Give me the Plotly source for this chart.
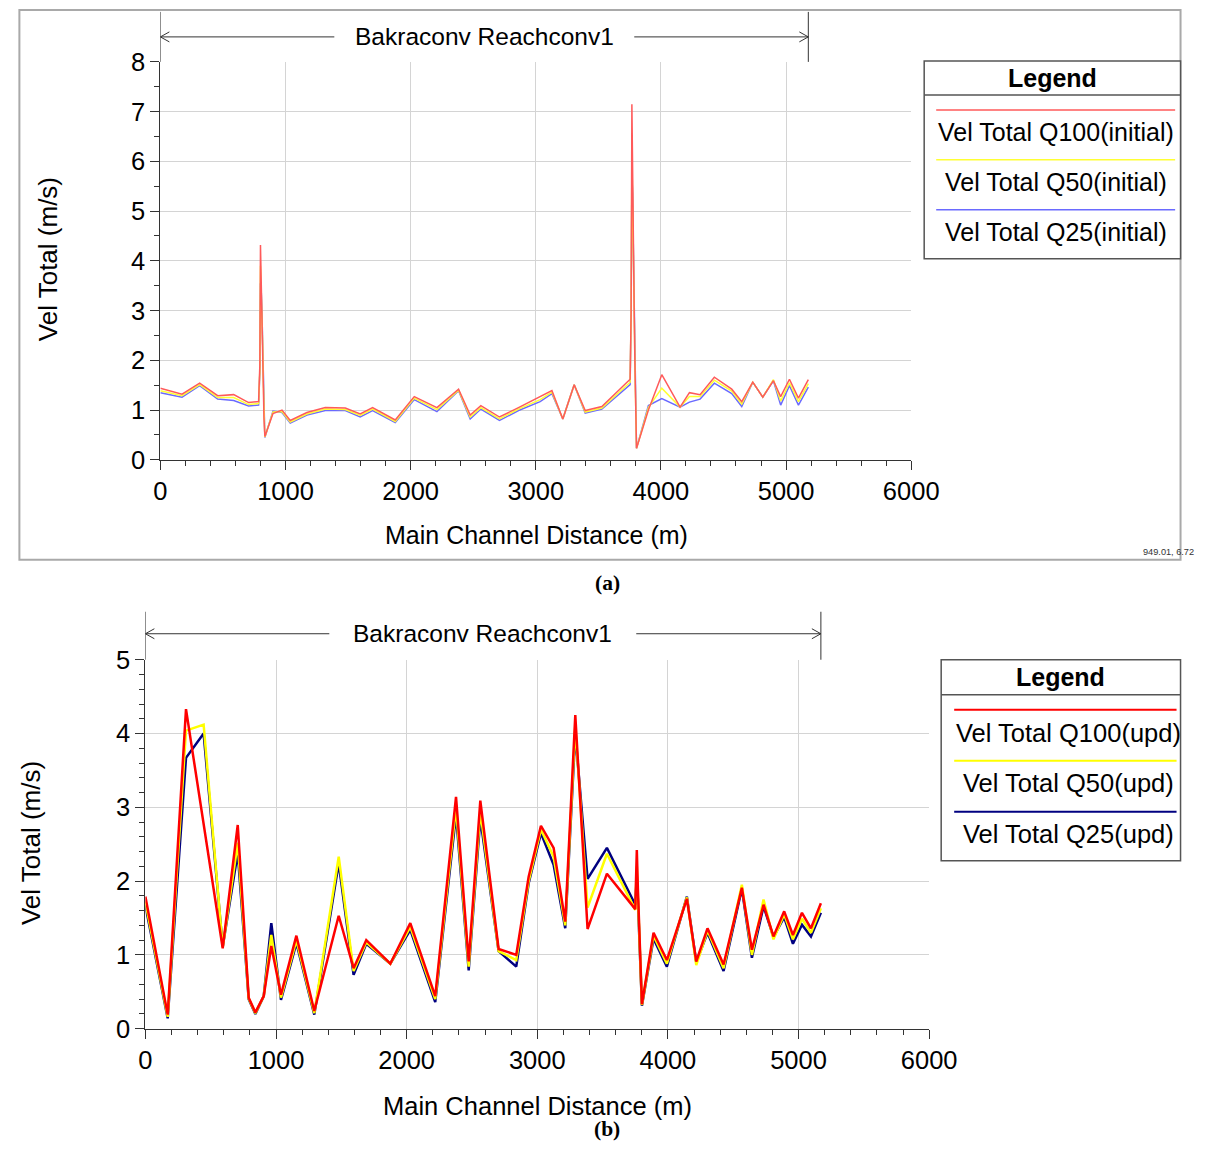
import plotly.graph_objects as go

W, H = 1210, 1155
# the photographed page shows the figure slightly scaled/offset; map target pixels to paper
SX, AX = 0.9713, 6.6
SY, AY = 0.9760, 14.1


def px(x):
    return (x - AX) / SX / W


def py(y):
    return 1 - (y - AY) / SY / H


# ---------------- Data: panel (a) initial geometry ----------------
dist_a = [0, 173, 314, 458, 586, 705, 785, 795, 800, 806, 812, 818, 823, 828, 835,
          900, 972, 1038, 1171, 1318, 1478, 1597, 1696, 1877, 2029, 2210, 2383, 2476,
          2561, 2710, 2862, 3035, 3129, 3216, 3307, 3395, 3528, 3754, 3762, 3768, 3774,
          3780, 3786, 3792, 3797, 3805, 3900, 4007, 4153, 4228, 4313, 4427, 4566, 4646,
          4734, 4814, 4899, 4957, 5027, 5099, 5178]
q100_a = [1.44, 1.32, 1.54, 1.29, 1.31, 1.15, 1.17, 1.90, 4.32, 3.45, 3.05, 2.31, 1.60, 0.84, 0.47,
          0.93, 1.00, 0.79, 0.95, 1.05, 1.04, 0.92, 1.05, 0.80, 1.27, 1.05, 1.42, 0.90,
          1.09, 0.86, 1.05, 1.26, 1.39, 0.82, 1.51, 0.99, 1.07, 1.62, 2.98, 7.15, 5.37,
          4.24, 3.10, 1.95, 0.80, 0.23, 1.00, 1.71, 1.06, 1.35, 1.31, 1.66, 1.42, 1.17,
          1.56, 1.26, 1.59, 1.27, 1.62, 1.24, 1.61]
q50_a = [1.39, 1.29, 1.51, 1.25, 1.25, 1.11, 1.13, 1.80, 3.90, 3.40, 3.00, 2.27, 1.55, 0.82, 0.46,
         0.96, 0.97, 0.76, 0.92, 1.02, 1.01, 0.89, 1.02, 0.77, 1.24, 1.01, 1.40, 0.86,
         1.05, 0.82, 1.02, 1.21, 1.36, 0.82, 1.51, 0.96, 1.04, 1.56, 2.95, 6.20, 5.35,
         4.22, 3.08, 1.93, 0.78, 0.23, 1.05, 1.44, 1.06, 1.27, 1.27, 1.60, 1.38, 1.12,
         1.56, 1.26, 1.61, 1.18, 1.55, 1.17, 1.53]
q25_a = [1.35, 1.26, 1.49, 1.22, 1.19, 1.08, 1.10, 1.75, 3.55, 3.40, 2.95, 2.25, 1.52, 0.80, 0.45,
         0.98, 0.95, 0.74, 0.90, 0.99, 0.99, 0.86, 0.99, 0.75, 1.21, 0.97, 1.39, 0.82,
         1.02, 0.79, 0.99, 1.17, 1.33, 0.82, 1.51, 0.94, 1.02, 1.51, 2.90, 5.75, 5.33,
         4.20, 3.06, 1.90, 0.76, 0.23, 1.09, 1.23, 1.06, 1.16, 1.22, 1.54, 1.33, 1.07,
         1.56, 1.26, 1.59, 1.10, 1.49, 1.10, 1.46]

# ---------------- Data: panel (b) updated geometry ----------------
dist_b = [0, 171, 311, 446, 592, 707, 791, 842, 906, 964, 1038, 1156, 1293, 1480, 1594,
          1691, 1875, 2028, 2219, 2378, 2475, 2564, 2704, 2839, 2934, 3028, 3125, 3214,
          3291, 3385, 3533, 3750, 3762, 3770, 3801, 3890, 3992, 4145, 4217, 4303, 4426,
          4566, 4643, 4732, 4808, 4890, 4957, 5026, 5095, 5171]
q100_b = [1.79, 0.19, 4.33, 2.80, 1.09, 2.76, 0.42, 0.22, 0.44, 1.12, 0.46, 1.26, 0.24, 1.53, 0.82,
          1.20, 0.88, 1.43, 0.44, 3.14, 0.91, 3.09, 1.08, 1.00, 2.06, 2.75, 2.45, 1.45,
          4.25, 1.35, 2.10, 1.62, 2.42, 1.90, 0.33, 1.30, 0.93, 1.76, 0.91, 1.36, 0.87,
          1.91, 1.07, 1.68, 1.25, 1.59, 1.27, 1.57, 1.36, 1.70]
q50_b = [1.72, 0.16, 4.04, 4.12, 1.10, 2.52, 0.41, 0.21, 0.44, 1.27, 0.42, 1.20, 0.21, 2.33, 0.78,
         1.17, 0.88, 1.38, 0.40, 3.00, 0.84, 2.95, 1.05, 0.93, 2.00, 2.70, 2.33, 1.40,
         4.10, 1.64, 2.37, 1.61, 2.20, 1.80, 0.32, 1.26, 0.88, 1.78, 0.86, 1.33, 0.82,
         1.95, 1.00, 1.75, 1.21, 1.55, 1.21, 1.49, 1.30, 1.63]
q25_b = [1.67, 0.14, 3.67, 4.00, 1.11, 2.38, 0.40, 0.20, 0.44, 1.43, 0.39, 1.16, 0.19, 2.24, 0.73,
         1.15, 0.88, 1.34, 0.36, 2.90, 0.79, 2.85, 1.05, 0.84, 1.97, 2.65, 2.22, 1.36,
         4.00, 2.03, 2.45, 1.68, 2.06, 1.75, 0.31, 1.22, 0.84, 1.79, 0.90, 1.30, 0.78,
         1.90, 0.96, 1.66, 1.24, 1.51, 1.15, 1.41, 1.25, 1.57]

names_a = ["Vel Total Q100(initial)", "Vel Total Q50(initial)", "Vel Total Q25(initial)"]
names_b = ["Vel Total Q100(upd)", "Vel Total Q50(upd)", "Vel Total Q25(upd)"]
colors_a = ["#ff5a5a", "#ffff33", "#6a6aff"]
colors_b = ["#ff0000", "#ffff00", "#000080"]

FONT = "Liberation Sans, Arial, sans-serif"
SERIF = "Liberation Serif, Times New Roman, serif"
EDGE = 1208.5 * SX + AX  # right-most target pixel still inside the page

fig = go.Figure()

for vals, name, col in [(q25_a, names_a[2], colors_a[2]),
                        (q50_a, names_a[1], colors_a[1]),
                        (q100_a, names_a[0], colors_a[0])]:
    fig.add_trace(go.Scatter(x=dist_a, y=vals, mode="lines", name=name,
                             line=dict(color=col, width=1.5),
                             xaxis="x", yaxis="y", showlegend=False))

for vals, name, col in [(q25_b, names_b[2], colors_b[2]),
                        (q50_b, names_b[1], colors_b[1]),
                        (q100_b, names_b[0], colors_b[0])]:
    fig.add_trace(go.Scatter(x=dist_b, y=vals, mode="lines", name=name,
                             line=dict(color=col, width=2.5),
                             xaxis="x2", yaxis="y2", showlegend=False))


def axis_common():
    return dict(
        showline=True, linecolor="#333333", linewidth=1,
        ticks="outside", ticklen=9, tickwidth=1, tickcolor="#333333",
        showgrid=True, gridcolor="#d4d4d4", gridwidth=1,
        zeroline=False, mirror=False,
        tickfont=dict(family=FONT, size=25.5, color="black"),
    )


MINOR = dict(ticks="outside", ticklen=5, tickcolor="#333333", showgrid=False, tick0=0)

xa = axis_common()
xa.update(domain=[px(160), px(911)], range=[0, 6000], tick0=0, dtick=1000, anchor="y",
          minor=dict(dtick=200, **MINOR))
ya = axis_common()
ya.update(domain=[py(460), py(62)], range=[0, 8], tick0=0, dtick=1, anchor="x",
          minor=dict(dtick=0.5, **MINOR))
xb = axis_common()
xb.update(domain=[px(145), px(929)], range=[0, 6000], tick0=0, dtick=1000, anchor="y2",
          minor=dict(dtick=200, **MINOR))
yb = axis_common()
yb.update(domain=[py(1029), py(660)], range=[0, 5], tick0=0, dtick=1, anchor="x2",
          minor=dict(dtick=0.2, **MINOR))

shapes = []
annotations = []

# outer frame of panel (a)
shapes.append(dict(type="rect", xref="paper", yref="paper",
                   x0=px(19), x1=px(min(1200, EDGE)), y0=py(560), y1=py(10),
                   line=dict(color="#a9a9a9", width=2), layer="below"))


def bracket(xref, start, end, dom_l, dom_r, y_line, y_top, y_plot, gap_l_px, gap_r_px, text):
    span = 6000.0

    def to_data(p):
        return (p - dom_l) / (dom_r - dom_l) * span
    per_px = span / (dom_r - dom_l)
    for xv in (start, end):
        shapes.append(dict(type="line", xref=xref, yref="paper", x0=xv, x1=xv,
                           y0=py(y_plot), y1=py(y_top), line=dict(color="#333333", width=1)))
    shapes.append(dict(type="line", xref=xref, yref="paper", x0=start, x1=to_data(gap_l_px),
                       y0=py(y_line), y1=py(y_line), line=dict(color="#333333", width=1)))
    shapes.append(dict(type="line", xref=xref, yref="paper", x0=to_data(gap_r_px), x1=end,
                       y0=py(y_line), y1=py(y_line), line=dict(color="#333333", width=1)))
    cl = 9 * per_px
    shapes.append(dict(type="path", xref=xref, yref="paper",
                       path=f"M {start + cl},{py(y_line - 5)} L {start},{py(y_line)} L {start + cl},{py(y_line + 5)}",
                       line=dict(color="#333333", width=1)))
    shapes.append(dict(type="path", xref=xref, yref="paper",
                       path=f"M {end - cl},{py(y_line - 5)} L {end},{py(y_line)} L {end - cl},{py(y_line + 5)}",
                       line=dict(color="#333333", width=1)))
    annotations.append(dict(text=text, xref="paper", yref="paper", x=px((gap_l_px + gap_r_px) / 2),
                            y=py(y_line), showarrow=False, xanchor="center", yanchor="middle",
                            font=dict(family=FONT, size=24.5, color="black")))


bracket("x", dist_a[0], dist_a[-1], 160, 911, 37, 12, 62, 334, 634, "Bakraconv Reachconv1")
bracket("x2", dist_b[0], dist_b[-1], 145, 929, 634, 612, 660, 329, 636, "Bakraconv Reachconv1")


def legend_box(x0, x1, y0, y1, y_div, line_ys, text_ys, lx0, lx1, names, colors, lw, fs):
    x1 = min(x1, EDGE)
    shapes.append(dict(type="rect", xref="paper", yref="paper", x0=px(x0), x1=px(x1),
                       y0=py(y1), y1=py(y0), line=dict(color="#555555", width=1.5),
                       fillcolor="white"))
    shapes.append(dict(type="line", xref="paper", yref="paper", x0=px(x0), x1=px(x1),
                       y0=py(y_div), y1=py(y_div), line=dict(color="#555555", width=1.5)))
    annotations.append(dict(text="<b>Legend</b>", xref="paper", yref="paper",
                            x=px((x0 + x1) / 2), y=py((y0 + y_div) / 2), showarrow=False,
                            xanchor="center", yanchor="middle",
                            font=dict(family=FONT, size=25, color="black")))
    for ly, ty, name, col in zip(line_ys, text_ys, names, colors):
        shapes.append(dict(type="line", xref="paper", yref="paper", x0=px(lx0), x1=px(min(lx1, x1 - 4)),
                           y0=py(ly), y1=py(ly), line=dict(color=col, width=lw)))
        annotations.append(dict(text=name, xref="paper", yref="paper",
                                x=px((lx0 + lx1) / 2), y=py(ty), showarrow=False,
                                xanchor="center", yanchor="middle",
                                font=dict(family=FONT, size=fs, color="black")))


legend_box(924, 1187, 61, 259, 95, [110, 160, 210], [132, 182, 232], 936, 1175,
           names_a, colors_a, 1.5, 25)
legend_box(941, 1194, 660, 861, 695, [710, 761, 812], [733, 783, 834], 954, 1182,
           names_b, colors_b, 2, 25.5)

annotations += [
    dict(text="Vel Total (m/s)", xref="paper", yref="paper", x=px(47), y=py(259), textangle=-90,
         showarrow=False, xanchor="center", yanchor="middle",
         font=dict(family=FONT, size=26, color="black")),
    dict(text="Main Channel Distance (m)", xref="paper", yref="paper", x=px(536), y=py(535),
         showarrow=False, xanchor="center", yanchor="middle",
         font=dict(family=FONT, size=25, color="black")),
    dict(text="Vel Total (m/s)", xref="paper", yref="paper", x=px(30), y=py(843), textangle=-90,
         showarrow=False, xanchor="center", yanchor="middle",
         font=dict(family=FONT, size=26, color="black")),
    dict(text="Main Channel Distance (m)", xref="paper", yref="paper", x=px(537), y=py(1106),
         showarrow=False, xanchor="center", yanchor="middle",
         font=dict(family=FONT, size=25.5, color="black")),
    dict(text="949.01, 6.72", xref="paper", yref="paper", x=px(1196), y=py(552),
         showarrow=False, xanchor="right", yanchor="middle",
         font=dict(family=FONT, size=9.2, color="#333333")),
    dict(text="<b>(a)</b>", xref="paper", yref="paper", x=px(607), y=py(583),
         showarrow=False, xanchor="center", yanchor="middle",
         font=dict(family=SERIF, size=21.5, color="black")),
    dict(text="<b>(b)</b>", xref="paper", yref="paper", x=px(607), y=max(py(1138), 12.5 / H),
         showarrow=False, xanchor="center", yanchor="middle",
         font=dict(family=SERIF, size=21.5, color="black")),
]

fig.update_layout(
    width=W, height=H, margin=dict(l=0, r=0, t=0, b=0),
    paper_bgcolor="white", plot_bgcolor="white",
    xaxis=xa, yaxis=ya, xaxis2=xb, yaxis2=yb,
    shapes=shapes, annotations=annotations, showlegend=False,
)

fig.write_html("out.html")
